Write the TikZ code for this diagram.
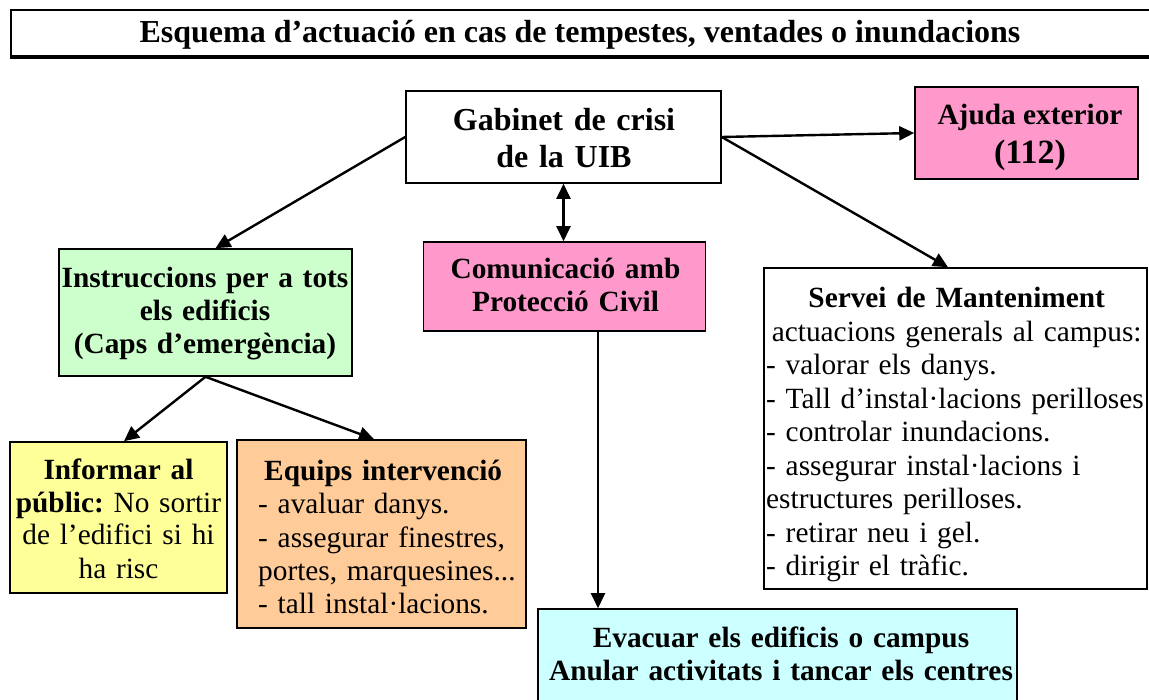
\documentclass[tikz,border=0pt]{standalone}
\usepackage{fontspec}
\setmainfont{Liberation Serif}
\usetikzlibrary{arrows.meta}
\definecolor{cpink}{HTML}{FF99CC}
\definecolor{cgreen}{HTML}{CCFFCC}
\definecolor{cyellow}{HTML}{FFFF99}
\definecolor{corange}{HTML}{FFCC99}
\definecolor{ccyan}{HTML}{CCFFFF}
\frenchspacing
\begin{document}
\begin{tikzpicture}[x=1pt,y=-1pt,
  box/.style={draw,line width=1.6pt,inner sep=0pt},
  txt/.style={anchor=base,inner sep=0pt,font=\fontsize{29.33}{33.5}\selectfont},
  arr/.style={line width=2.4pt,-{Triangle[length=15pt,width=14pt]}},
  darr/.style={line width=2.4pt,{Triangle[length=15pt,width=14pt]}-{Triangle[length=15pt,width=14pt]}}]
\useasboundingbox (0,0) rectangle (1149,700);
\fill[white] (0,0) rectangle (1149,700);
% title
\node[box,anchor=north west,minimum width=1160pt,minimum height=46pt] (title) at (10,9) {};
\draw[line width=4pt] (title.south west) -- (title.south east);
\node[txt,font=\fontsize{32}{36}\selectfont\bfseries] (titleT) at (580,43) {Esquema d’actuació en cas de tempestes, ventades o inundacions};
% boxes
\node[box,fill=white,minimum width=315pt,minimum height=92pt] (gab) at (563.5,137) {};
\node[box,fill=cpink,minimum width=223pt,minimum height=92pt] (ajuda) at (1026.5,133) {};
\node[box,fill=cgreen,minimum width=293pt,minimum height=127pt] (instr) at (205.5,312.5) {};
\node[box,fill=cpink,minimum width=282pt,minimum height=89pt] (com) at (564.5,286.5) {};
\node[box,fill=white,minimum width=383pt,minimum height=321pt] (serv) at (955.5,428.5) {};
\node[box,fill=cyellow,minimum width=217pt,minimum height=151pt] (inf) at (118.5,517.5) {};
\node[box,fill=corange,minimum width=289pt,minimum height=188pt] (equ) at (381.5,534) {};
\node[box,fill=ccyan,minimum width=479pt,minimum height=110pt] (evac) at (777.5,664) {};
% texts
\node[txt,text width=310pt,font=\fontsize{32}{36.8}\selectfont\bfseries] (gabT) at (564,131) {\centering Gabinet de crisi\\de la UIB\par};
\node[txt,font=\fontsize{29.33}{33.5}\selectfont\bfseries] (ajudaT) at (1030,125) {Ajuda exterior};
\node[txt,font=\fontsize{34}{38}\selectfont\bfseries] (ajudaN) at (1030,164) {(112)};
\node[txt,text width=290pt,font=\fontsize{29.33}{33}\selectfont\bfseries] (instrT) at (205,288) {\centering Instruccions per a tots\\els edificis\\(Caps d’emergència)\par};
\node[txt,text width=280pt,font=\fontsize{29.33}{33}\selectfont\bfseries] (comT) at (565.5,279) {\centering Comunicació amb\\Protecció Civil\par};
\node[txt,anchor=base west,text width=381pt] (servT) at (766,308)
  {{\centering\textbf{Servei de Manteniment}\\actuacions generals al campus:\par}
   \raggedright
   - valorar els danys.\\
   - Tall d’instal·lacions perilloses\\
   - controlar inundacions.\\
   - assegurar instal·lacions i\\
   estructures perilloses.\\
   - retirar neu i gel.\\
   - dirigir el tràfic.\par};
\node[txt,text width=215pt,font=\fontsize{29.33}{33}\selectfont] (infT) at (118.5,479) {\centering\textbf{Informar al}\\\textbf{públic:} No sortir\\de l’edifici si hi\\ha risc\par};
\node[txt,anchor=base west,text width=264pt] (equT) at (258,480)
  {{\centering\hspace*{-14pt}\textbf{Equips intervenció}\par}
   \raggedright
   - avaluar danys.\\
   - assegurar finestres,\\
   portes, marquesines...\\
   - tall instal·lacions.\par};
\node[txt,text width=476pt,font=\fontsize{29.33}{33}\selectfont\bfseries] (evacT) at (781,647) {\centering Evacuar els edificis o campus\\Anular activitats i tancar els centres\par};
% connectors
\draw[arr] (gab.west) -- ([xshift=10pt]instr.north);
\draw[arr] (gab.east) -- (ajuda.west);
\draw[arr] (gab.east) -- ([xshift=-7.5pt]serv.north);
\draw[darr] (gab.south) -- (gab.south |- com.north);
\draw[arr] ([xshift=33.5pt]com.south) -- ([xshift=33.5pt]com.south |- evac.north);
\draw[arr] (instr.south) -- ([xshift=5.5pt]inf.north);
\draw[arr] (instr.south) -- ([xshift=-7.5pt]equ.north);
\end{tikzpicture}
\end{document}
